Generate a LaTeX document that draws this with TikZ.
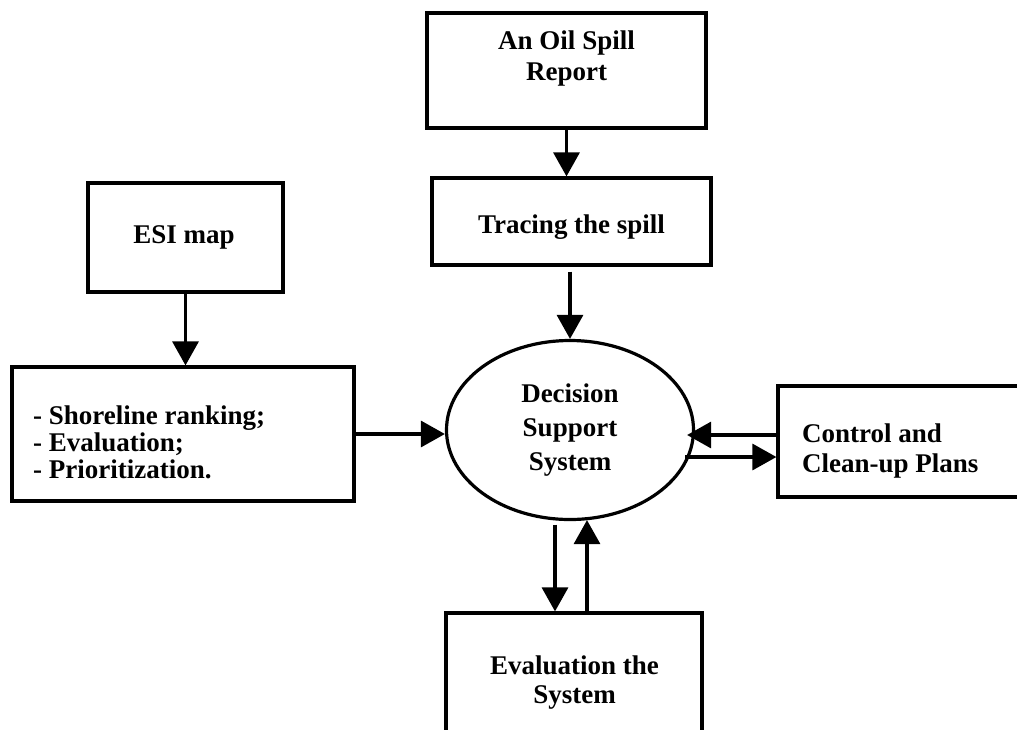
\documentclass[tikz,border=0pt]{standalone}
\usepackage{fontspec}
\setmainfont{Liberation Serif}
\usetikzlibrary{shapes.geometric,arrows.meta}
\begin{document}
\begin{tikzpicture}[x=1pt,y=-1pt,
  box/.style={draw, rectangle, line width=3.2pt, inner sep=0pt},
  txt/.style={inner sep=0pt, font=\bfseries\fontsize{27pt}{#1}\selectfont},
  txt/.default={31pt},
  arr/.style={line width=3.2pt, -{Triangle[length=24pt,width=26pt]}}]
\fill[white] (0,0) rectangle (1017,729);
\useasboundingbox (0,0) rectangle (1017,729);
% boxes
\node[box, minimum width=279pt, minimum height=115pt] (report) at (566.5,70.5) {};
\node[txt, align=center] (reportT) at (566.5,58.3) {An Oil Spill\\Report};
\node[box, minimum width=279pt, minimum height=87pt] (trace) at (571.5,221.5) {};
\node[txt, anchor=base] (traceT) at (571.5,233) {Tracing the spill};
\node[box, minimum width=195pt, minimum height=109pt] (esi) at (185.5,237.5) {};
\node[txt, anchor=base] (esiT) at (184,243) {ESI map};
\node[box, minimum width=342pt, minimum height=134pt] (list) at (183,434) {};
\node[txt={27pt}, align=left, anchor=west] (listT) at (33,442.5) {- Shoreline ranking;\\- Evaluation;\\- Prioritization.};
\node[draw, ellipse, line width=3.2pt, inner sep=0pt, minimum width=247pt, minimum height=179pt,
      align=center, font=\bfseries\fontsize{27pt}{34pt}\selectfont] (dss) at (570,430) {Decision\\Support\\System};
\node[box, minimum width=262pt, minimum height=111pt] (ctrl) at (909,441.5) {};
\node[txt={30pt}, align=left, anchor=west] (ctrlT) at (802,451) {Control and\\Clean-up Plans};
\node[box, minimum width=256pt, minimum height=137pt] (eval) at (574,681.5) {};
\node[txt={29pt}, align=center] (evalT) at (574.5,683) {Evaluation the\\System};
% connectors
\draw[arr] (report.south) -- (report.south |- trace.north);
\draw[arr] ([yshift=-5pt]dss.north |- trace.south) -- (dss.north);
\draw[arr] (esi.south) -- (esi.south |- list.north);
\draw[arr] (list.east) -- (list.east -| dss.west);
\draw[arr] ([yshift=6.5pt]ctrl.west) -- ([xshift=-8pt,yshift=-5pt]dss.east);
\draw[arr] ([xshift=-10pt,yshift=-27pt]dss.east) -- ([yshift=-15.5pt]ctrl.west);
\draw[arr] ([xshift=-15pt,yshift=-3.5pt]dss.south) -- ([xshift=-15pt]dss.south |- eval.north);
\draw[arr] ([xshift=17pt]dss.south |- eval.north) -- ([xshift=17pt,yshift=1pt]dss.south);
\end{tikzpicture}
\end{document}
